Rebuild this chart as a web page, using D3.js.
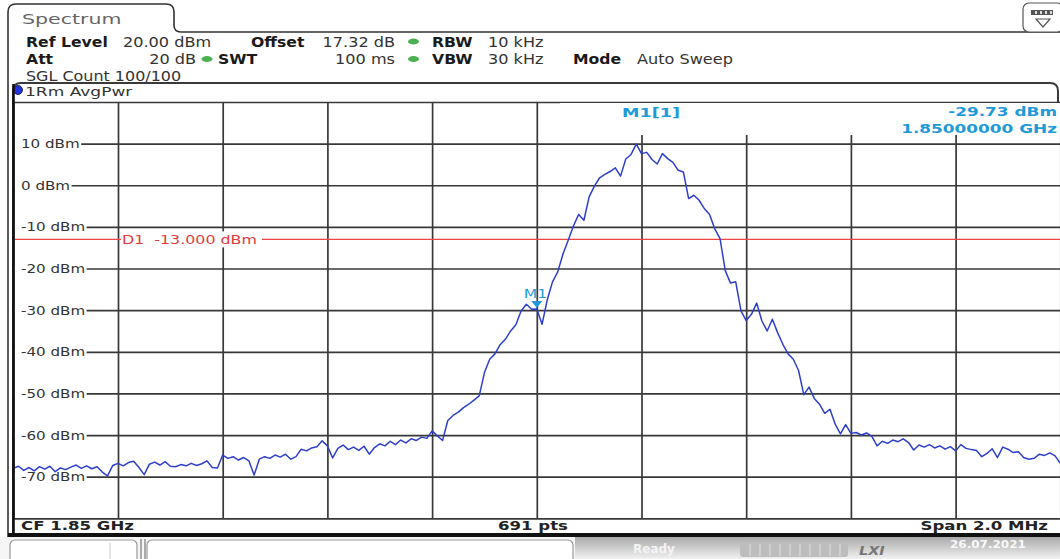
<!DOCTYPE html>
<html>
<head>
<meta charset="utf-8">
<script src="https://cdn.jsdelivr.net/npm/d3@7"></script>
<style>
body { margin: 0; background: #fff; }
svg { display: block; font-family: "DejaVu Sans", sans-serif; }
</style>
</head>
<body>
<svg width="1060" height="559"></svg>
<script>
var svg = d3.select('svg');

// ---- data ----
var centerGHz = 1.85;
var spanKHz = 2000;
var yTicks = [20, 10, 0, -10, -20, -30, -40, -50, -60, -70, -80];
var yTickLabels = ['', '10 dBm', '0 dBm', '-10 dBm', '-20 dBm', '-30 dBm', '-40 dBm', '-50 dBm', '-60 dBm', '-70 dBm', ''];
var xDivisions = [-1000, -800, -600, -400, -200, 0, 200, 400, 600, 800, 1000];
var displayLineDbm = -13;
var markerKHz = 0;
var markerDbm = -29.73;

// trace level (dBm), one value every 10 kHz from CF-1 MHz to CF+1 MHz
var traceDbm = [
  -68, -67.5, -68.5, -67.8, -68.6, -67.6, -68.2, -67.5, -68.8, -67.9,
  -68.3, -67.7, -67.2, -68, -67.4, -68.1, -67.6, -68.9, -69.8, -67.3,
  -66.8, -67.4, -66.6, -66.3, -67.8, -69.5, -67, -66.5, -67.2, -66.4,
  -67.5, -67.6, -67.1, -67.4, -66.8, -67.3, -66.9, -66.2, -67.8, -67.9,
  -64.8, -65.6, -65.2, -66, -65.4, -66.2, -69.6, -65.8, -65.2, -65.6,
  -64.8, -65.3, -64.6, -65.8, -65.2, -63.4, -63.8, -63.1, -62.8, -61.4,
  -62.6, -65.5, -63.2, -62.4, -63.5, -62.9, -63.7, -62.7, -64.6, -63,
  -62.1, -62.6, -61.5, -62.3, -61.2, -61.9, -60.9, -61.3, -60.5, -60.8,
  -59, -60.2, -61.3, -56.5, -55.3, -54.5, -53.4, -52.6, -51.6, -50.6,
  -45, -41.8, -40.5, -38.3, -37, -35, -33.5, -30.2, -28.6, -29.8,
  -29.73, -33.4, -27.5, -23.2, -20.8, -16.5, -13.2, -9.8, -7, -8.4,
  -2.8, -0.2, 1.8, 2.6, 3.3, 4.2, 2.2, 6.3, 7.4, 9.9,
  7.6, 7.9, 6.2, 5.1, 7.6, 6.4, 5.5, 3.6, 3.2, -3.2,
  -2.4, -3.6, -5.6, -7, -10.5, -12.8, -20.5, -23.5, -23.2, -30.2,
  -32.5, -31, -28.3, -32.6, -35, -32.2, -35.4, -38.2, -40.5, -41.8,
  -44.5, -50.3, -48.5, -51.2, -52.6, -54.8, -53.8, -57.4, -59.7, -57.5,
  -59.6, -59.4, -60, -59.5, -60.3, -62.6, -61.5, -62, -61.2, -61.6,
  -60.9, -61.8, -63.6, -62.4, -62.9, -62.3, -63.1, -62.6, -63.4, -62.8,
  -63.8, -62.3, -63.2, -63.5, -63.7, -65.2, -64.4, -63.3, -65.4, -62.9,
  -63.4, -64.2, -64, -65.4, -65.8, -65.6, -64.6, -64.9, -64.3, -65,
  -66.8
];

// header settings
var headerRow1 = [['Ref Level', '20.00 dBm'], ['Offset', '17.32 dB'], ['RBW', '10 kHz']];
var headerRow2 = [['Att', '20 dB'], ['SWT', '100 ms'], ['VBW', '30 kHz'], ['Mode', 'Auto Sweep']];

// ---- layout ----
var plot = {l: 13.3, r: 1060.3, t: 102, b: 518.3};
var traceColor = '#2e3fcc';
var markColor = '#1e9ad8';

var xScale = d3.scaleLinear().domain([-spanKHz / 2, spanKHz / 2]).range([plot.l, plot.r]);
var yScale = d3.scaleLinear().domain([-80, 20]).range([plot.b, plot.t]);

function txt(g, s, x, y, o) {
    o = o || {};
    return g.append('text')
        .attr('transform', 'translate(' + x + ',' + y + ') scale(' + (o.sx || 1) + ',1)')
        .attr('font-size', o.size || 13)
        .attr('font-weight', o.weight || 'normal')
        .attr('font-style', o.style || 'normal')
        .attr('fill', o.fill || '#222')
        .attr('text-anchor', o.anchor || 'start')
        .style('white-space', 'pre')
        .text(s);
}

function greenDot(cx, cy) {
    svg.append('ellipse').attr('cx', cx).attr('cy', cy).attr('rx', 5.5).attr('ry', 3)
        .attr('fill', '#4caf50');
}

// ---- frame / tab ----
svg.append('path')
    .attr('d', 'M8,537 V12 Q8,4 16,4 H166 Q174,4 174,12 V25 Q174,32 181,32 H1060')
    .attr('fill', 'none').attr('stroke', '#333').attr('stroke-width', 1.6);

svg.append('path')
    .attr('d', 'M13,537 V91 Q13,83 21,83 H1050 Q1058,83 1058,91 V102')
    .attr('fill', 'none').attr('stroke', '#3a3a3a').attr('stroke-width', 2);

txt(svg, 'Spectrum', 22, 24, {size: 13.5, sx: 1.52, fill: '#666'});

// settings icon, top right
var icon = svg.append('g');
icon.append('rect').attr('x', 1023).attr('y', 3).attr('width', 40).attr('height', 29).attr('rx', 6)
    .attr('fill', '#fff').attr('stroke', '#555').attr('stroke-width', 1.2);
icon.append('rect').attr('x', 1031).attr('y', 10).attr('width', 22).attr('height', 5).attr('fill', '#555');
[1035, 1040, 1045, 1050].forEach(function(d) {
    icon.append('rect').attr('x', d).attr('y', 11).attr('width', 2).attr('height', 3).attr('fill', '#ddd');
});
icon.append('path').attr('d', 'M1036,19 L1050,19 L1043,27 Z')
    .attr('fill', 'none').attr('stroke', '#555').attr('stroke-width', 1.2);

// ---- header ----
var hx1 = [[26, 123, 'start'], [251, 395, 'end'], [432, 488, 'start']];
headerRow1.forEach(function(d, i) {
    txt(svg, d[0], hx1[i][0], 47, {size: 14, weight: 'bold', sx: 1.12, fill: '#1a1a1a'});
    txt(svg, d[1], hx1[i][1], 47, {size: 14, sx: 1.15, fill: '#333', anchor: hx1[i][2]});
});
var hx2 = [[26, 196, 'end'], [218, 395, 'end'], [432, 488, 'start'], [573, 637, 'start']];
headerRow2.forEach(function(d, i) {
    txt(svg, d[0], hx2[i][0], 64, {size: 14, weight: 'bold', sx: 1.12, fill: '#1a1a1a'});
    txt(svg, d[1], hx2[i][1], 64, {size: 14, sx: 1.15, fill: '#333', anchor: hx2[i][2]});
});
txt(svg, 'SGL Count 100/100', 26, 81, {size: 14, sx: 1.14, fill: '#333'});
greenDot(413.5, 41.5);
greenDot(207, 59);
greenDot(413.5, 59);

// trace label
svg.append('circle').attr('cx', 18).attr('cy', 90).attr('r', 4.5).attr('fill', '#2233dd')
    .attr('stroke', '#112').attr('stroke-width', 0.8);
txt(svg, '1Rm AvgPwr', 25, 96, {size: 12, sx: 1.42, fill: '#333'});

// ---- grid ----
var gridG = svg.append('g');

gridG.append('g')
    .attr('transform', 'translate(0,' + plot.b + ')')
    .call(d3.axisBottom(xScale).tickValues(xDivisions).tickSize(-(plot.b - plot.t)).tickFormat(''))
    .call(function(g) { g.select('.domain').remove(); });

gridG.append('g')
    .attr('transform', 'translate(' + plot.l + ',0)')
    .call(d3.axisRight(yScale).tickValues(yTicks).tickSize(plot.r - plot.l).tickFormat(''))
    .call(function(g) { g.select('.domain').remove(); });

gridG.selectAll('line').attr('stroke', '#383838').attr('stroke-width', 1.7);

// white box behind the marker readout
svg.append('rect').attr('x', 560).attr('y', 103).attr('width', 500).attr('height', 32).attr('fill', '#fff');

// y labels, sitting on a white patch so the grid line starts after the text
var yLab = svg.append('g');
yTicks.forEach(function(v, i) {
    if (!yTickLabels[i]) return;
    var t = txt(yLab, yTickLabels[i], 21, yScale(v) + 4.5, {size: 12, sx: 1.26, fill: '#333'});
    var w = t.node().getComputedTextLength() * 1.26;
    yLab.insert('rect', 'text')
        .attr('x', 14.5).attr('y', yScale(v) - 2).attr('width', w + 8).attr('height', 4)
        .attr('fill', '#fff');
});

// display line D1
svg.append('line')
    .attr('x1', plot.l).attr('x2', plot.r)
    .attr('y1', yScale(displayLineDbm)).attr('y2', yScale(displayLineDbm))
    .attr('stroke', '#ee4444').attr('stroke-width', 1.2);
svg.append('rect').attr('x', 121).attr('y', yScale(displayLineDbm) - 8).attr('width', 141).attr('height', 16)
    .attr('fill', '#fff');
txt(svg, 'D1  -13.000 dBm', 122, yScale(displayLineDbm) + 4.5, {size: 12, sx: 1.32, fill: '#e03a3a'});

// ---- trace ----
svg.append('clipPath').attr('id', 'clip')
    .append('rect').attr('x', plot.l).attr('y', plot.t).attr('width', plot.r - plot.l).attr('height', plot.b - plot.t);

var step = spanKHz / (traceDbm.length - 1);
var line = d3.line()
    .x(function(d, i) { return xScale(-spanKHz / 2 + i * step); })
    .y(function(d) { return yScale(d); });

svg.append('path')
    .datum(traceDbm)
    .attr('clip-path', 'url(#clip)')
    .attr('d', line)
    .attr('fill', 'none')
    .attr('stroke', traceColor)
    .attr('stroke-width', 1.5)
    .attr('stroke-linejoin', 'round');

// ---- marker ----
var mx = xScale(markerKHz), my = yScale(markerDbm);
svg.append('path')
    .attr('d', 'M' + (mx - 5.5) + ',' + (my - 8) + ' L' + (mx + 5.5) + ',' + (my - 8) + ' L' + mx + ',' + (my - 1) + ' Z')
    .attr('fill', markColor);
txt(svg, 'M1', mx - 13, my - 11, {size: 12, sx: 1.3, fill: markColor});

txt(svg, 'M1[1]', 622, 117, {size: 13, weight: 'bold', sx: 1.35, fill: markColor});
txt(svg, markerDbm.toFixed(2) + ' dBm', 1057, 116, {size: 13, weight: 'bold', sx: 1.3, fill: markColor, anchor: 'end'});
txt(svg, centerGHz.toFixed(8) + ' GHz', 1057, 133, {size: 13, weight: 'bold', sx: 1.3, fill: markColor, anchor: 'end'});

// ---- bottom info row ----
txt(svg, 'CF ' + centerGHz + ' GHz', 21, 530, {size: 12, weight: 'bold', sx: 1.38, fill: '#222'});
txt(svg, '691 pts', 533, 530, {size: 12, weight: 'bold', sx: 1.38, fill: '#222', anchor: 'middle'});
txt(svg, 'Span ' + (spanKHz / 1000).toFixed(1) + ' MHz', 1048, 530, {size: 12, weight: 'bold', sx: 1.38, fill: '#222', anchor: 'end'});

svg.append('line').attr('x1', 8).attr('x2', 1060).attr('y1', 535).attr('y2', 535)
    .attr('stroke', '#111').attr('stroke-width', 4);
svg.append('line').attr('x1', 13.5).attr('x2', 13.5).attr('y1', 84).attr('y2', 535)
    .attr('stroke', '#111').attr('stroke-width', 2.6);

// ---- status bar ----
var defs = svg.append('defs');
var grad = defs.append('linearGradient').attr('id', 'sb').attr('x1', 0).attr('y1', 0).attr('x2', 0).attr('y2', 1);
grad.append('stop').attr('offset', '0%').attr('stop-color', '#a9a9a9');
grad.append('stop').attr('offset', '100%').attr('stop-color', '#f2f2f2');

svg.append('rect').attr('x', 0).attr('y', 537).attr('width', 1060).attr('height', 22).attr('fill', '#f6f6f6');
svg.append('rect').attr('x', 575).attr('y', 537).attr('width', 485).attr('height', 22).attr('fill', 'url(#sb)');
svg.append('rect').attr('x', 10).attr('y', 540).attr('width', 127).attr('height', 24).attr('rx', 5)
    .attr('fill', '#fff').attr('stroke', '#999').attr('stroke-width', 1.2);
svg.append('line').attr('x1', 110).attr('x2', 110).attr('y1', 543).attr('y2', 559).attr('stroke', '#ccc');
[140, 144].forEach(function(x) {
    svg.append('rect').attr('x', x).attr('y', 539).attr('width', 2).attr('height', 20).attr('fill', '#aaa');
});
svg.append('rect').attr('x', 147).attr('y', 540).attr('width', 426).attr('height', 24).attr('rx', 5)
    .attr('fill', '#fff').attr('stroke', '#999').attr('stroke-width', 1.2);

txt(svg, 'Ready', 633, 553, {size: 12, weight: 'bold', fill: '#f4f4f4'});
svg.append('rect').attr('x', 740).attr('y', 543).attr('width', 108).attr('height', 14).attr('rx', 3).attr('fill', '#bdbdbd');
d3.range(750, 848, 10).forEach(function(x) {
    svg.append('line').attr('x1', x).attr('x2', x).attr('y1', 544).attr('y2', 556).attr('stroke', '#e0e0e0');
});
txt(svg, 'LXI', 859, 555, {size: 12, weight: 'bold', style: 'italic', sx: 1.2, fill: '#777'});
txt(svg, '26.07.2021', 950, 548, {size: 10, weight: 'bold', sx: 1.2, fill: '#f8f8f8'});
</script>
</body>
</html>
